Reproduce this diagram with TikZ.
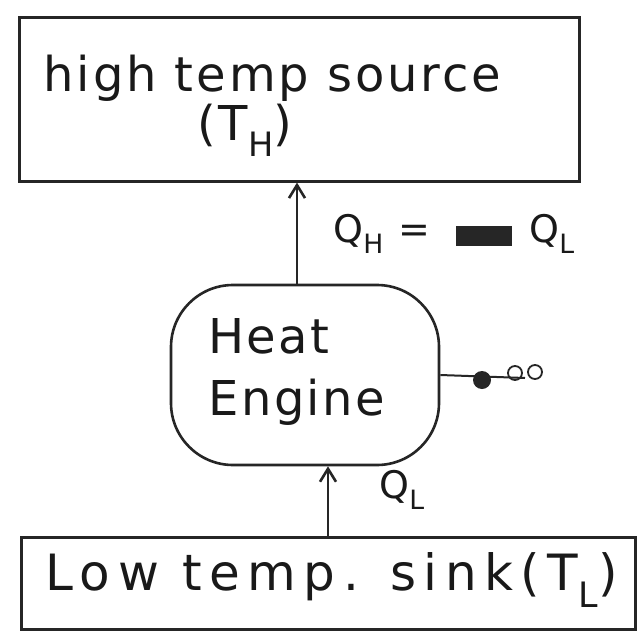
\documentclass[tikz,border=0pt]{standalone}
\usepackage{fontspec}
\setmainfont{DejaVu Sans}
\usetikzlibrary{arrows.meta}
\begin{document}
\begin{tikzpicture}[x=1pt,y=1pt,
  hand/.style={draw=black!85,line width=2.6pt},
  srcfont/.style={font=\fontsize{48}{54}\selectfont\addfontfeature{LetterSpace=6},text=black!90},
  engfont/.style={font=\fontsize{48}{62}\selectfont\addfontfeature{LetterSpace=5},text=black!90},
  sinkfont/.style={font=\fontsize{50}{56}\selectfont\addfontfeature{LetterSpace=15},text=black!90},
  labtext/.style={font=\fontsize{38}{44}\selectfont\addfontfeature{LetterSpace=6},text=black!90},
  flow/.style={hand,-{Straight Barb[length=13pt,width=16pt]}}]
\useasboundingbox (0,0) rectangle (640,-632);
\fill[white] (0,0) rectangle (640,-632);
% top box
\node[hand,minimum width=560pt,minimum height=164pt,anchor=north west,inner sep=0pt] (src) at (18,-16) {};
\node[srcfont,anchor=west] (srctxt) at (40,-78) {high temp source};
\node[srcfont] (srctxt2) at (245,-130) {(T\textsubscript{H})};
% engine
\node[hand,rounded corners=62pt,minimum width=268pt,minimum height=180pt,inner sep=0pt] (eng) at (305,-375) {};
\node[engfont,align=left,anchor=west] (engtxt) at (205,-372) {Heat\\Engine};
% bottom box
\node[hand,minimum width=614pt,minimum height=92pt,anchor=north west,inner sep=0pt] (sink) at (20,-536) {};
\node[sinkfont,anchor=west] (sinktxt) at (42,-580) {Low temp. sink(T\textsubscript{L})};
% arrows
\coordinate (a1s) at (297,-285);
\draw[flow] (eng.north -| a1s) -- (src.south -| a1s);
\coordinate (a2) at (328,0);
\draw[flow] (sink.north -| a2) -- (eng.south -| a2);
% labels
\node[labtext,anchor=west] (qh) at (330,-234) {Q\textsubscript{H} =};
\node[fill=black!85,minimum width=56pt,minimum height=20pt,inner sep=0pt] (scr) at (484,-236) {};
\node[labtext,anchor=west] (ql1) at (526,-234) {Q\textsubscript{L}};
\node[labtext,anchor=west] (ql2) at (376,-490) {Q\textsubscript{L}};
% work output
\coordinate (w2) at (525,-378);
\draw[hand,line width=2pt] (eng.east) -- (w2);
\fill[black!85] (482,-380) circle (9pt);
\draw[hand,line width=1.8pt] (515,-373) circle (7pt) (535,-372) circle (7pt);
\end{tikzpicture}
\end{document}
